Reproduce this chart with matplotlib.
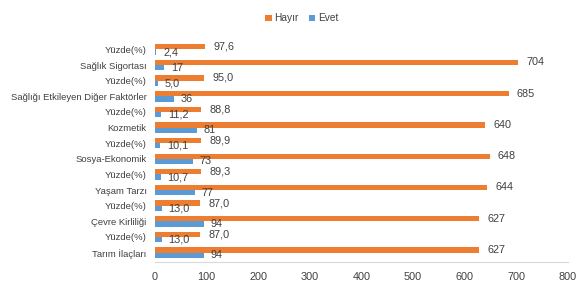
import numpy as np
from matplotlib import pyplot as plt

plt.rcParams['font.family'] = ['Liberation Sans', 'DejaVu Sans']

# top to bottom as in the reference
categories = ["Yüzde(%)", "Sağlık Sigortası", "Yüzde(%)", "Sağlığı Etkileyen Diğer Faktörler",
              "Yüzde(%)", "Kozmetik", "Yüzde(%)", "Sosya-Ekonomik", "Yüzde(%)", "Yaşam Tarzı",
              "Yüzde(%)", "Çevre Kirliliği", "Yüzde(%)", "Tarım İlaçları"]
hayir = [97.6, 704, 95.0, 685, 88.8, 640, 89.9, 648, 89.3, 644, 87.0, 627, 87.0, 627]
evet = [2.4, 17, 5.0, 36, 11.2, 81, 10.1, 73, 10.7, 77, 13.0, 94, 13.0, 94]
is_pct = [c.startswith("Yüzde") for c in categories]

orange = "#ED7D31"
blue = "#5B9BD5"
txt = "#404040"


def fmt(v, pct):
    return f"{v:.1f}".replace(".", ",") if pct else f"{v:.0f}"


fig = plt.figure(figsize=(5.83, 2.87), dpi=100)
ax = fig.add_axes([155 / 583, 25 / 287, 413 / 583, 222 / 287])

n = len(categories)
y = np.arange(n)[::-1]
h = 0.34
b1 = ax.barh(y + h / 2, hayir, height=h, color=orange, label="Hayır")
b2 = ax.barh(y - h / 2, evet, height=h, color=blue, label="Evet")

ax.bar_label(b1, labels=[fmt(v, p) for v, p in zip(hayir, is_pct)], padding=6, fontsize=7.8, color=txt)
ax.bar_label(b2, labels=[fmt(v, p) for v, p in zip(evet, is_pct)], padding=5, fontsize=7.8, color=txt)

ax.set_yticks(y)
ax.set_yticklabels(categories, fontsize=6.8, color=txt)
ax.set_ylim(-0.6, n - 0.4)
ax.set_xlim(0, 800)
ax.set_xticks(range(0, 801, 100))
ax.tick_params(axis="x", labelsize=7.8, colors=txt, length=0, pad=7)
ax.tick_params(axis="y", length=0, pad=6)

for s in ["top", "right", "left"]:
    ax.spines[s].set_visible(False)
ax.spines["bottom"].set_color("#D9D9D9")

fig.legend(loc="upper center", bbox_to_anchor=(302 / 583, 0.985), ncol=2, frameon=False,
           fontsize=7.3, handlelength=0.6, handleheight=0.6, columnspacing=1.0, handletextpad=0.3,
           labelcolor=txt)

fig.savefig("out.png", dpi=100)
